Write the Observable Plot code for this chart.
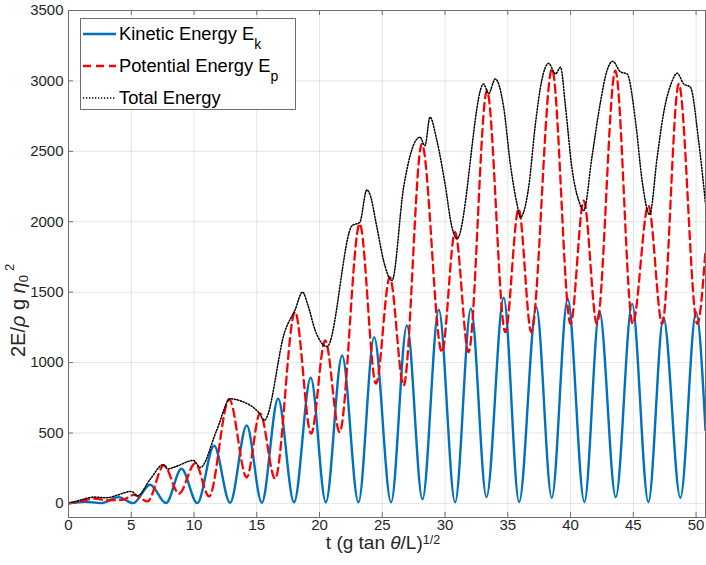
<!DOCTYPE html>
<html><head><meta charset="utf-8">
<script src="https://cdn.jsdelivr.net/npm/d3@7"></script>
<script src="https://cdn.jsdelivr.net/npm/@observablehq/plot@0.6"></script>
<style>
body{margin:0;background:#fff}
#chart{position:relative;width:706px;height:565px}
</style>
</head><body><div id="chart"></div>
<script>
// Kinetic energy E_k : [t, value] (peaks and troughs)
const kinetic = [[0,0],[1.3,12],[2.6,2],[4.0,45],[5.16,2],[6.5,133],[7.77,2],[9.0,246],[10.26,2],[11.6,410],[12.87,5],[14.2,553],[15.4,5],[16.7,743],[17.97,8],[19.3,892],[20.5,8],[21.8,1050],[23.1,8],[24.35,1180],[25.7,8],[26.96,1263],[28.2,30],[29.5,1375],[30.8,8],[32.06,1382],[33.3,45],[34.67,1460],[35.9,10],[37.27,1393],[38.5,40],[39.77,1453],[41.1,10],[42.3,1365],[43.6,45],[44.9,1417],[46.2,10],[47.4,1318],[48.75,40],[50.0,1358],[50.75,520]];
// Potential energy E_p
const potential = [[0,0],[1.0,15],[2.0,35],[3.1,22],[4.3,25],[5.2,60],[6.3,15],[7.6,270],[8.8,70],[10.1,285],[11.2,50],[12.8,740],[14.2,185],[15.26,640],[16.46,175],[18.05,1360],[19.33,495],[20.45,1157],[21.6,506],[23.2,1985],[24.5,850],[25.6,1606],[26.7,837],[28.15,2553],[29.75,1074],[30.8,1926],[31.87,1074],[33.34,2931],[34.8,1216],[35.86,2091],[36.87,1216],[38.52,3085],[40.0,1275],[41.05,2150],[42.1,1275],[43.57,3073],[44.95,1275],[46.2,2115],[47.3,1275],[48.62,2978],[50.1,1275],[50.75,1800]];
// Total energy
const total = [[0,0],[1.0,25],[2.0,45],[3.0,40],[4.0,62],[4.6,80],[5.0,85],[5.5,55],[6.5,170],[7.55,275],[7.9,245],[8.5,260],[9.95,305],[10.5,255],[11.8,518],[12.9,743],[13.8,725],[15.2,640],[15.6,590],[17.26,1228],[18.05,1375],[18.64,1500],[19.1,1400],[19.65,1230],[20.6,1114],[22.6,1973],[23.2,1995],[23.77,2226],[24.0,2198],[24.57,1961],[25.1,1725],[25.77,1583],[26.7,2245],[27.76,2588],[28.0,2600],[28.4,2540],[28.8,2742],[29.35,2576],[30.0,2269],[30.55,1961],[30.95,1880],[33.07,2978],[33.47,2910],[34.0,3014],[34.67,2813],[35.2,2411],[35.73,2127],[36.0,2032],[36.66,2245],[37.2,2695],[37.7,3002],[38.25,3125],[38.8,3050],[39.2,3097],[39.6,2813],[40.1,2387],[40.65,2150],[41.05,2080],[41.7,2458],[42.4,2860],[42.9,3073],[43.36,3139],[43.97,3065],[44.5,3050],[45.2,2695],[45.7,2292],[46.3,2051],[46.9,2458],[47.4,2766],[48.0,2978],[48.5,3054],[49.0,2980],[49.55,2955],[50.2,2576],[50.75,2130]];

const xTicks = [0,5,10,15,20,25,30,35,40,45,50];
const yTicks = [0,500,1000,1500,2000,2500,3000,3500];
const legendLabels = [["Kinetic Energy E","k"],["Potential Energy E","p"],["Total Energy",""]];

const W = 706, H = 565, mL = 68, mR = 1, mT = 10, mB = 48;
const innerW = W - mL - mR, innerH = H - mT - mB;
const axisColor = "#6e6e6e";
const textColor = "#262626";

const styles = [
  {stroke:"#0072BD", strokeWidth:2.4, strokeDasharray:null},
  {stroke:"#ff0000", strokeWidth:2.3, strokeDasharray:"8,5"},
  {stroke:"#000000", strokeWidth:1.5, strokeDasharray:"1.3,1.7"}
];

const toRows = arr => arr.map(([t,v]) => ({t, v}));

const plot = Plot.plot({
  width: W, height: H,
  marginLeft: mL, marginRight: mR, marginTop: mT, marginBottom: mB,
  style: {fontFamily: "'Liberation Sans', Arial, sans-serif", background: "#fff"},
  x: {domain: [0, 50.75]},
  y: {domain: [-100, 3500]},
  marks: [
    Plot.gridX(xTicks, {stroke: "#000", strokeOpacity: 0.1}),
    Plot.gridY(yTicks, {stroke: "#000", strokeOpacity: 0.1}),
    Plot.line(toRows(kinetic), {x: "t", y: "v", curve: "monotone-x", clip: true, ...styles[0]}),
    Plot.line(toRows(potential), {x: "t", y: "v", curve: "monotone-x", clip: true, ...styles[1]}),
    Plot.line(toRows(total), {x: "t", y: "v", curve: "monotone-x", clip: true, ...styles[2]}),
    Plot.ruleX(xTicks, {x: d => d, insetTop: innerH - 5, stroke: axisColor}),
    Plot.ruleX(xTicks, {x: d => d, insetBottom: innerH - 5, stroke: axisColor}),
    Plot.ruleY(yTicks, {y: d => d, insetRight: innerW - 5, stroke: axisColor}),
    Plot.axisX(xTicks, {tickSize: 0, tickPadding: 2, fontSize: 15, fill: textColor, label: null, tickFormat: d => String(d)}),
    Plot.axisY(yTicks, {tickSize: 0, tickPadding: 5, fontSize: 15, fill: textColor, label: null, tickFormat: d => String(d)}),
    Plot.frame({stroke: axisColor, strokeWidth: 1})
  ]
});

const svg = d3.select(plot);

// x label
const xl = svg.append("text")
  .attr("x", 383).attr("y", 549).attr("text-anchor", "middle")
  .attr("fill", textColor).attr("font-size", 19);
xl.append("tspan").text("t (g tan ");
xl.append("tspan").attr("font-style", "italic").text("θ");
xl.append("tspan").text("/L)");
xl.append("tspan").attr("dy", -5).attr("font-size", 12.5).text("1/2");

// y label
const yl = svg.append("text")
  .attr("transform", "translate(25,357) rotate(-90)")
  .attr("text-anchor", "start")
  .attr("fill", textColor).attr("font-size", 20);
yl.append("tspan").text("2E/");
yl.append("tspan").attr("font-style", "italic").text("ρ");
yl.append("tspan").text(" g ");
yl.append("tspan").attr("font-style", "italic").text("η");
yl.append("tspan").attr("dy", 3).attr("font-size", 13).text("0");
yl.append("tspan").attr("dy", -14).attr("dx", 4).attr("font-size", 13).text("2");

// legend
const lg = svg.append("g");
lg.append("rect").attr("x", 80.5).attr("y", 18.5).attr("width", 215).attr("height", 91)
  .attr("fill", "#fff").attr("stroke", axisColor).attr("stroke-width", 1);
const baselines = [39.5, 71.5, 103.5];
legendLabels.forEach(([label, sub], i) => {
  const s = styles[i];
  const ly = baselines[i] - 5.5;
  const ln = lg.append("line").attr("x1", 83).attr("x2", 116).attr("y1", ly).attr("y2", ly)
    .attr("stroke", s.stroke).attr("stroke-width", s.strokeWidth);
  if (s.strokeDasharray) ln.attr("stroke-dasharray", s.strokeDasharray);
  const t = lg.append("text").attr("x", 119).attr("y", baselines[i])
    .attr("text-anchor", "start")
    .attr("fill", "#000").attr("font-size", 18.3);
  t.append("tspan").text(label);
  if (sub) t.append("tspan").attr("dy", 9).attr("font-size", 14).text(sub);
});

document.getElementById("chart").appendChild(plot);
</script>
</body></html>
